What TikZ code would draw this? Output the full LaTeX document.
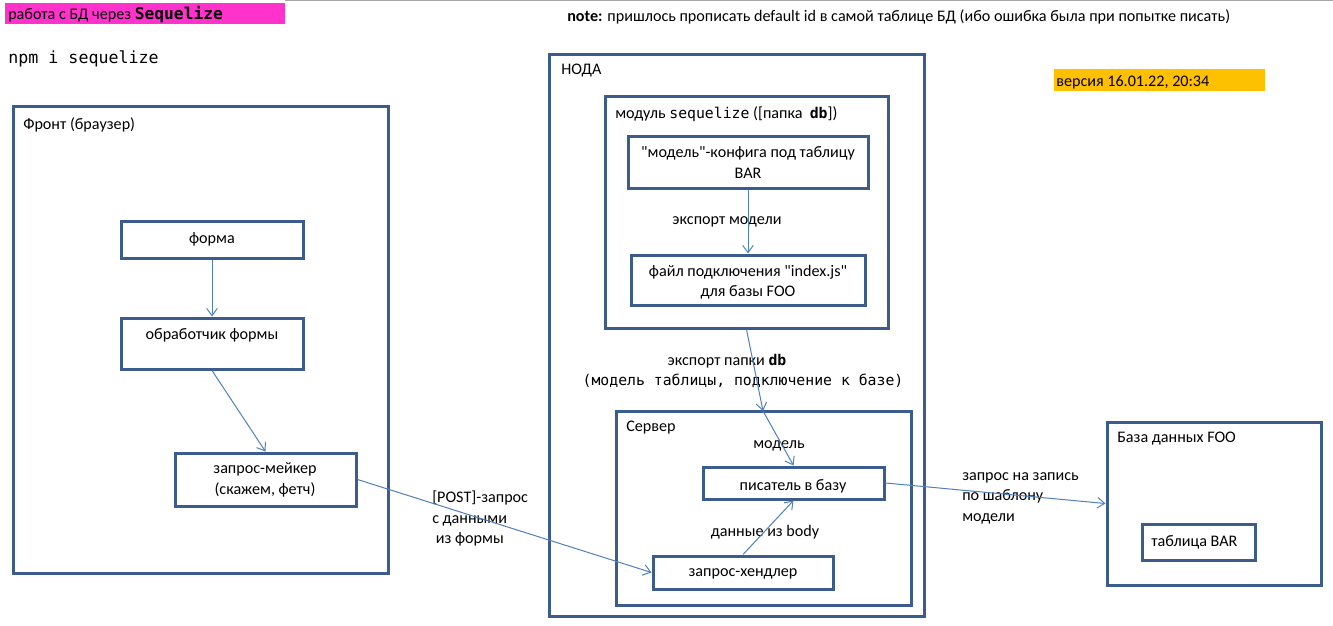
\documentclass[tikz,border=0pt]{standalone}
\usepackage{fontspec}
\setmainfont{Carlito}[Ligatures=TeXOff]
\setmonofont{DejaVu Sans Mono}
\usetikzlibrary{arrows.meta,fit}
\definecolor{boxblue}{RGB}{60,92,140}
\definecolor{arrblue}{RGB}{79,129,189}
\definecolor{titlepink}{RGB}{255,51,204}
\definecolor{verorange}{RGB}{255,192,0}
\newcommand{\mono}[1]{{\fontsize{11.1}{14}\selectfont\ttfamily #1}}
\tikzset{
  box/.style={draw=boxblue, line width=2.25pt, inner sep=0pt},
  txt/.style={inner sep=0pt, font=\fontsize{12.1}{15.3}\selectfont},
  arr/.style={draw=arrblue, line width=0.75pt, -{Straight Barb[length=5.5pt,width=8pt]}},
}
\begin{document}
\begin{tikzpicture}[x=0.75pt,y=-0.75pt]
\useasboundingbox (0,0) rectangle (1333,625);
\fill[white] (0,0) rectangle (1333,625);
\draw[gray!70, line width=0.75pt] (285,0.5) -- (1333,0.5);
% title
\fill[titlepink] (5,3) rectangle (285,24);
\node[txt, anchor=west] (title) at (8,15) {работа с БД через {\fontsize{12.2}{14}\selectfont\ttfamily\bfseries Sequelize}};
\node[txt, anchor=west] (note) at (567,17) {\textbf{note:} пришлось прописать default id в самой таблице БД (ибо ошибка была при попытке писать)};
\node[txt, anchor=west] (npm) at (8,59) {\fontsize{12.5}{14}\selectfont\ttfamily npm i sequelize};
\fill[verorange] (1054,69) rectangle (1265,91);
\node[txt, anchor=west] (ver) at (1056,82) {версия 16.01.22, 20:34};
% front
\node[box, fit={(13,106) (388,573)}] (front) {};
\node[txt, anchor=west] (frontlbl) at (23,125) {Фронт (браузер)};
\node[box, fit={(121,221) (303,258)}] (forma) {};
\node[txt] (formalbl) at (212,239) {форма};
\node[box, fit={(121,318) (303,369)}] (obr) {};
\node[txt] (obrlbl) at (212,335) {обработчик формы};
\node[box, fit={(175,453) (356,506)}] (zm) {};
\node[txt, align=center] (zmlbl) at (265,480) {запрос-мейкер\\(скажем, фетч)};
% noda
\node[box, fit={(549,54) (924,616)}] (noda) {};
\node[txt, anchor=west] (nodalbl) at (561,71) {НОДА};
\node[box, fit={(605,96) (888,328)}] (module) {};
\node[txt, anchor=west] (modlbl) at (615,114) {модуль \mono{sequelize} ([папка\ \ \mono{\bfseries db}])};
\node[box, fit={(628,136) (868,188)}] (config) {};
\node[txt, align=center] (configlbl) at (748,162.5) {"модель"-конфига под таблицу\\BAR};
\node[box, fit={(631,255) (865,305)}] (file) {};
\node[txt, align=center] (filelbl) at (748,282) {файл подключения "index.js"\\для базы FOO};
\node[txt] (explbl) at (727,222) {экспорт модели};
\node[txt] (expdb1) at (727,361) {экспорт папки \mono{\bfseries db}};
\node[txt] (expdb2) at (743,381) {\mono{(модель таблицы, подключение к базе)}};
% server
\node[box, fit={(616,411) (911,605)}] (server) {};
\node[txt, anchor=west] (srvlbl) at (626,428) {Сервер};
\node[txt] (modellbl) at (779,446) {модель};
\node[box, fit={(703,467) (884,499)}] (writer) {};
\node[txt] (writerlbl) at (793,486) {писатель в базу};
\node[box, fit={(653,556) (833,589)}] (handler) {};
\node[txt] (handlerlbl) at (743,574) {запрос-хендлер};
\node[txt] (bodylbl) at (765,532) {данные из body};
\coordinate (srvin) at (763,411);
% db
\node[box, fit={(1107,422) (1321,585)}] (db) {};
\node[txt, anchor=west] (dblbl) at (1117,439) {База данных FOO};
\node[box, fit={(1142,524) (1255,560)}] (table) {};
\node[txt, anchor=west] (tablbl) at (1151,542) {таблица BAR};
% labels
\node[txt, anchor=west, align=left] (postlbl) at (432,518.5) {[POST]-запрос\\с данными\\\ из формы};
\node[txt, anchor=west, align=left] (reqlbl) at (962,498) {запрос на запись\\по шаблону\\модели};
% arrows
\draw[arr] (forma.south) -- (obr.north);
\draw[arr] (obr.south) -- (zm.north);
\draw[arr] (zm.east) -- (handler.west);
\draw[arr] (config.south) -- (file.north);
\draw[arr] (module.south) -- (srvin);
\draw[arr] (srvin) -- (writer.north);
\draw[arr] (handler.north) -- (writer.south);
\draw[arr] (writer.east) -- (db.west);
\end{tikzpicture}
\end{document}
